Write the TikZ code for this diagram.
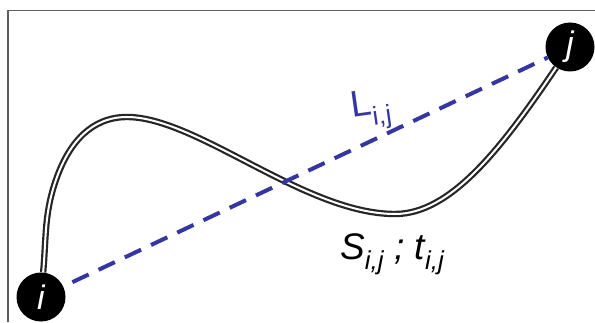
\documentclass[tikz,border=0pt]{standalone}
\usepackage{fontspec}
\setmainfont{Liberation Sans}
\definecolor{dashblue}{RGB}{54,54,163}
\definecolor{framegray}{RGB}{95,95,95}
\begin{document}
\begin{tikzpicture}[x=1pt,y=1pt,
  endpoint/.style={circle,fill=black,minimum size=49pt,inner sep=0pt,text=white,font=\fontsize{34}{36}\selectfont\itshape},
  route/.style={draw=black!85,line width=2.2pt,double=white,double distance=2pt},
  straight/.style={draw=dashblue,line width=4pt,dash pattern=on 18pt off 11pt,dash phase=19pt},
  lbl/.style={font=\fontsize{37}{40}\selectfont}]
\useasboundingbox (0,0) rectangle (595,322);
\draw[framegray,line width=1.5pt] (8,0) -- (8,311.5) -- (595,311.5);
\node[endpoint] (i) at (41,25) {i};
\node[endpoint] (j) at (570,275) {j};
\coordinate (bend) at (57,145);
\coordinate (top) at (127,205);
\coordinate (low) at (395,108);
\draw[route] (i) to[out=85,in=250] (bend)
  to[out=70,in=180] (top)
  to[out=0,in=180,out distance=70pt,in distance=90pt] (low)
  to[out=0,in=236,out distance=55pt,in distance=100pt] (j);
\draw[straight] (i) -- (j);
\node[lbl,text=dashblue,rotate=8,anchor=base west,inner sep=0pt] (L) at (352,204) {L\textsubscript{i,j}};
\node[lbl,anchor=base west,inner sep=0pt] (S) at (340,63) {\itshape S\textsubscript{i,j} ; t\textsubscript{i,j}};
\end{tikzpicture}
\end{document}
